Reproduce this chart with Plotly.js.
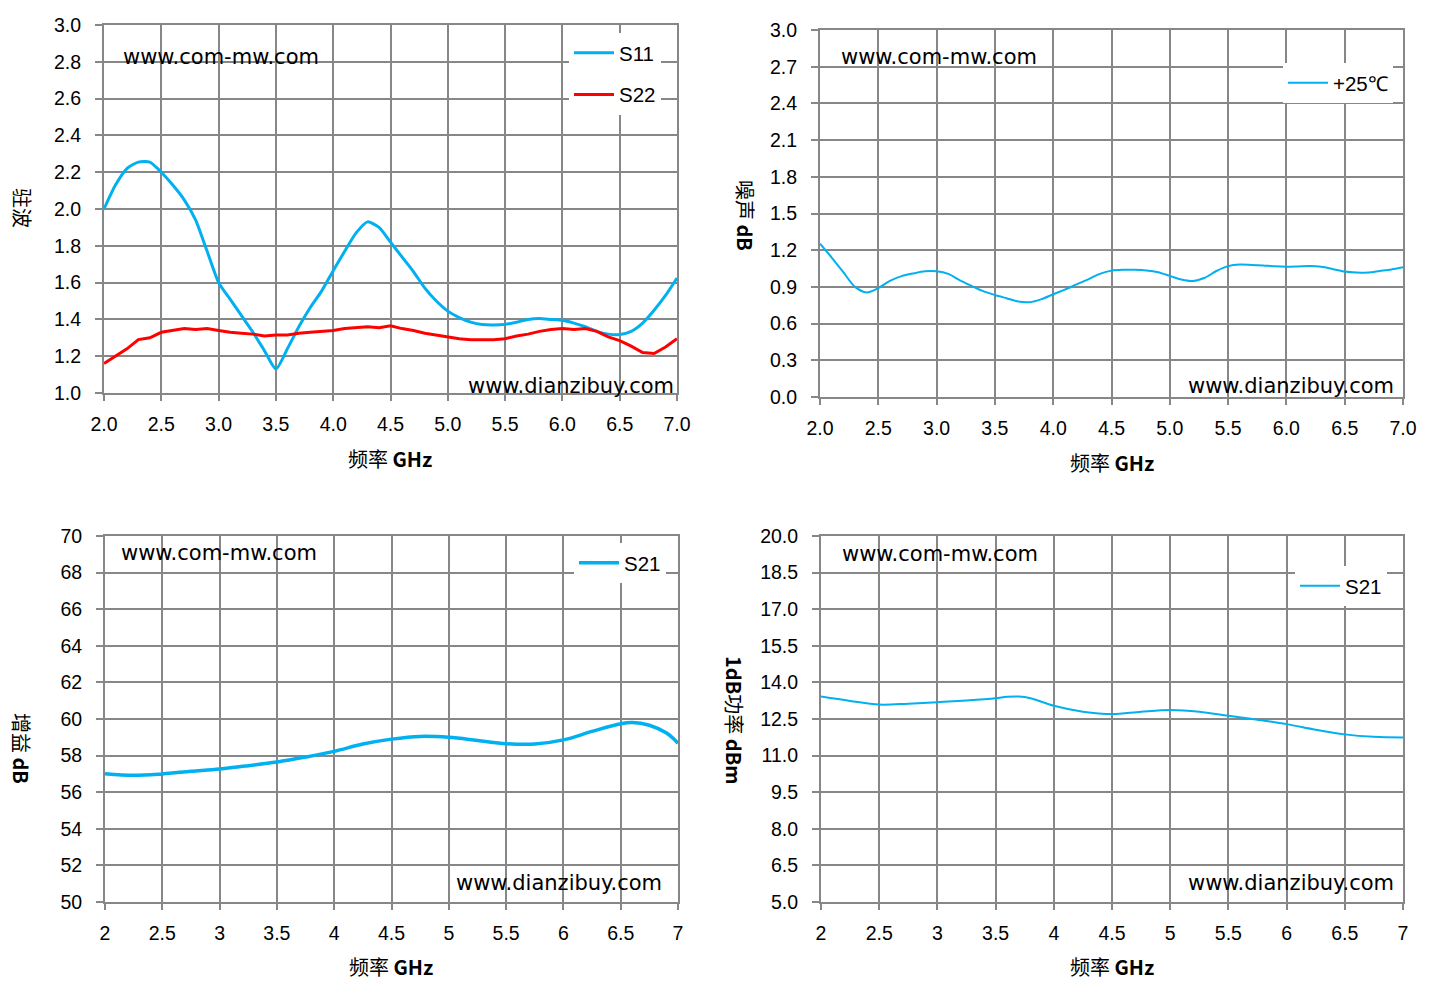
<!DOCTYPE html>
<html>
<head>
<meta charset="utf-8">
<script src="https://cdn.plot.ly/plotly-3.0.1.min.js"></script>
<style>html,body{margin:0;padding:0;background:#fff;}#chart{width:1437px;height:993px;}</style>
</head>
<body>
<div id="chart"></div>
<script>
// ---- data ----
const freqVswr = [2.0,2.1,2.2,2.3,2.4,2.5,2.6,2.7,2.8,2.9,3.0,3.1,3.2,3.3,3.4,3.5,3.6,3.7,3.8,3.9,4.0,4.1,4.2,4.3,4.4,4.5,4.6,4.7,4.8,4.9,5.0,5.1,5.2,5.3,5.4,5.5,5.6,5.7,5.8,5.9,6.0,6.1,6.2,6.3,6.4,6.5,6.6,6.7,6.8,6.9,7.0];
const s11 = [2.00,2.13,2.22,2.255,2.255,2.20,2.13,2.05,1.94,1.77,1.60,1.51,1.42,1.33,1.23,1.13,1.24,1.36,1.465,1.555,1.665,1.77,1.87,1.93,1.90,1.82,1.74,1.66,1.57,1.50,1.445,1.41,1.385,1.372,1.370,1.373,1.385,1.40,1.405,1.40,1.395,1.38,1.36,1.335,1.32,1.318,1.335,1.38,1.45,1.53,1.625];
const s22 = [1.16,1.20,1.24,1.29,1.30,1.33,1.34,1.35,1.345,1.35,1.34,1.33,1.325,1.32,1.31,1.315,1.315,1.325,1.33,1.335,1.34,1.35,1.355,1.36,1.355,1.365,1.35,1.34,1.325,1.315,1.305,1.295,1.29,1.29,1.29,1.295,1.31,1.32,1.335,1.345,1.35,1.345,1.35,1.335,1.305,1.285,1.255,1.22,1.215,1.25,1.295];

const freqNf = [2.0,2.1,2.2,2.3,2.4,2.5,2.6,2.7,2.8,2.9,3.0,3.1,3.2,3.3,3.4,3.5,3.6,3.7,3.8,3.9,4.0,4.1,4.2,4.3,4.4,4.5,4.6,4.7,4.8,4.9,5.0,5.1,5.2,5.3,5.4,5.5,5.6,5.7,5.8,5.9,6.0,6.1,6.2,6.3,6.4,6.5,6.6,6.7,6.8,6.9,7.0];
const nf25 = [1.253,1.14,1.02,0.90,0.855,0.89,0.95,0.988,1.01,1.027,1.027,1.006,0.953,0.908,0.865,0.834,0.807,0.78,0.775,0.80,0.84,0.878,0.92,0.962,1.006,1.033,1.04,1.04,1.035,1.02,0.99,0.96,0.948,0.975,1.03,1.07,1.083,1.08,1.075,1.068,1.065,1.067,1.07,1.064,1.045,1.025,1.017,1.018,1.03,1.042,1.06];

const freqGain = [2.0,2.25,2.5,2.75,3.0,3.25,3.5,3.75,4.0,4.25,4.5,4.75,5.0,5.25,5.5,5.75,6.0,6.25,6.5,6.6,6.75,6.9,7.0];
const gainS21 = [57.01,56.92,57.0,57.14,57.27,57.45,57.65,57.92,58.23,58.63,58.9,59.05,59.0,58.83,58.65,58.63,58.86,59.32,59.74,59.81,59.66,59.23,58.68];

const freqP1 = [2.0,2.25,2.5,2.75,3.0,3.25,3.5,3.6,3.7,3.8,4.0,4.25,4.5,4.75,5.0,5.25,5.5,5.75,6.0,6.25,6.5,6.75,7.0];
const p1dbS21 = [13.42,13.24,13.09,13.13,13.19,13.26,13.35,13.41,13.42,13.35,13.04,12.80,12.70,12.80,12.87,12.80,12.63,12.47,12.29,12.06,11.87,11.77,11.74];

const ticksA = {x:[2.0,7.0,0.5], vswr:[1.0,3.0,0.2], nf:[0.0,3.0,0.3], gain:[50,70,2], p1:[5.0,20.0,1.5]};

// ---- styling ----
const BLUE = '#00B0F0', RED = '#FF0000', GRID = '#878787';
const TICKFONT = {family: 'Liberation Sans, Arial, sans-serif', size: 19.5, color: '#000'};
const LEGFONT = {family: 'Liberation Sans, Arial, sans-serif', size: 20.5, color: '#000'};
const CJK = 'Noto Sans CJK SC, Liberation Sans, sans-serif';
const WM = {family: 'DejaVu Sans, Verdana, sans-serif', size: 21, color: '#000'};

function xax(domain, anchor, fmt){
  return {domain: domain, anchor: anchor, range: [ticksA.x[0], ticksA.x[1]], dtick: ticksA.x[2], tick0: 2,
    tickformat: fmt, showgrid: true, gridcolor: GRID, gridwidth: 2, zeroline: false,
    showline: true, mirror: true, linecolor: GRID, linewidth: 2,
    ticks: 'outside', ticklen: 6, tickwidth: 2, tickcolor: GRID, ticklabelstandoff: 7,
    tickfont: TICKFONT, fixedrange: true};
}
function yax(domain, anchor, r, fmt){
  return {domain: domain, anchor: anchor, range: [r[0], r[1]], dtick: r[2], tick0: r[0],
    tickformat: fmt, showgrid: true, gridcolor: GRID, gridwidth: 2, zeroline: false,
    showline: true, mirror: true, linecolor: GRID, linewidth: 2,
    ticks: 'outside', ticklen: 7, tickwidth: 2, tickcolor: GRID, ticklabelstandoff: 10,
    tickfont: TICKFONT, fixedrange: true};
}

const traces = [
  {x: freqVswr, y: s11, name: 'S11', type: 'scatter', mode: 'lines', line: {color: BLUE, width: 3, shape: 'spline', smoothing: 0.6}, xaxis: 'x', yaxis: 'y', legend: 'legend', legendgroup: 'a'},
  {x: freqVswr, y: s22, name: 'S22', type: 'scatter', mode: 'lines', line: {color: RED, width: 3}, xaxis: 'x', yaxis: 'y', legend: 'legend', legendgroup: 'b'},
  {x: freqNf, y: nf25, name: '+25℃', type: 'scatter', mode: 'lines', line: {color: BLUE, width: 2, shape: 'spline', smoothing: 0.8}, xaxis: 'x2', yaxis: 'y2', legend: 'legend2'},
  {x: freqGain, y: gainS21, name: 'S21', type: 'scatter', mode: 'lines', line: {color: BLUE, width: 3.5, shape: 'spline'}, xaxis: 'x3', yaxis: 'y3', legend: 'legend3'},
  {x: freqP1, y: p1dbS21, name: 'S21', type: 'scatter', mode: 'lines', line: {color: BLUE, width: 2, shape: 'spline'}, xaxis: 'x4', yaxis: 'y4', legend: 'legend4'}
];

const LEG = {bgcolor: '#ffffff', borderwidth: 0, font: LEGFONT, xanchor: 'left', yanchor: 'top', itemwidth: 40};

function ann(text, x, y, font, opts){
  return Object.assign({text: text, x: x, y: y, xref: 'paper', yref: 'paper', showarrow: false, font: font, xanchor: 'center', yanchor: 'middle'}, opts || {});
}
const TITLEFONT = {family: CJK, size: 20, color: '#000'};

const annotations = [
  // x titles
  ann('频率 <b>GHz</b>', 390/1437, 1-458/993, TITLEFONT),
  ann('频率 <b>GHz</b>', 1112/1437, 1-462/993, TITLEFONT),
  ann('频率 <b>GHz</b>', 391/1437, 1-966/993, TITLEFONT),
  ann('频率 <b>GHz</b>', 1112/1437, 1-966/993, TITLEFONT),
  // y titles (rotated clockwise)
  ann('驻波', 22/1437, 1-208/993, TITLEFONT, {textangle: 90}),
  ann('噪声 <b>dB</b>', 745/1437, 1-215/993, TITLEFONT, {textangle: 90}),
  ann('增益 <b>dB</b>', 22/1437, 1-748/993, TITLEFONT, {textangle: 90}),
  ann('<b>1dB</b>功率 <b>dBm</b>', 735/1437, 1-720/993, TITLEFONT, {textangle: 90}),
  // watermarks
  {text: 'www.com-mw.com', xref: 'x domain', yref: 'y domain', x: 0.030, y: 0.913, xanchor: 'left', yanchor: 'middle', showarrow: false, font: WM},
  {text: 'www.dianzibuy.com', xref: 'x domain', yref: 'y domain', x: 0.998, y: 0.019, xanchor: 'right', yanchor: 'middle', showarrow: false, font: WM},
  {text: 'www.com-mw.com', xref: 'x2 domain', yref: 'y2 domain', x: 0.033, y: 0.926, xanchor: 'left', yanchor: 'middle', showarrow: false, font: WM},
  {text: 'www.dianzibuy.com', xref: 'x2 domain', yref: 'y2 domain', x: 0.988, y: 0.030, xanchor: 'right', yanchor: 'middle', showarrow: false, font: WM},
  {text: 'www.com-mw.com', xref: 'x3 domain', yref: 'y3 domain', x: 0.025, y: 0.954, xanchor: 'left', yanchor: 'middle', showarrow: false, font: WM},
  {text: 'www.dianzibuy.com', xref: 'x3 domain', yref: 'y3 domain', x: 0.976, y: 0.052, xanchor: 'right', yanchor: 'middle', showarrow: false, font: WM},
  {text: 'www.com-mw.com', xref: 'x4 domain', yref: 'y4 domain', x: 0.032, y: 0.951, xanchor: 'left', yanchor: 'middle', showarrow: false, font: WM},
  {text: 'www.dianzibuy.com', xref: 'x4 domain', yref: 'y4 domain', x: 0.988, y: 0.052, xanchor: 'right', yanchor: 'middle', showarrow: false, font: WM}
];

const layout = {
  width: 1437, height: 993,
  margin: {l: 0, r: 0, t: 0, b: 0},
  paper_bgcolor: '#ffffff', plot_bgcolor: '#ffffff',
  showlegend: true,
  xaxis: xax([104/1437, 677/1437], 'y', '.1f'),
  yaxis: yax([1-393/993, 1-25/993], 'x', ticksA.vswr, '.1f'),
  xaxis2: xax([820/1437, 1403/1437], 'y2', '.1f'),
  yaxis2: yax([1-397/993, 1-30/993], 'x2', ticksA.nf, '.1f'),
  xaxis3: xax([105/1437, 678/1437], 'y3', ''),
  yaxis3: yax([1-902/993, 1-536/993], 'x3', ticksA.gain, ''),
  xaxis4: xax([821/1437, 1403/1437], 'y4', ''),
  yaxis4: yax([1-902/993, 1-536/993], 'x4', ticksA.p1, '.1f'),
  legend: Object.assign({}, LEG, {x: 569/1437, y: 1-33/993, traceorder: 'grouped', tracegroupgap: 12}),
  legend2: Object.assign({}, LEG, {x: 1283/1437, y: 1-63/993}),
  legend3: Object.assign({}, LEG, {x: 574/1437, y: 1-543/993}),
  legend4: Object.assign({}, LEG, {x: 1295/1437, y: 1-566/993}),
  annotations: annotations
};

Plotly.newPlot('chart', traces, layout, {displayModeBar: false, staticPlot: true});
</script>
</body>
</html>
